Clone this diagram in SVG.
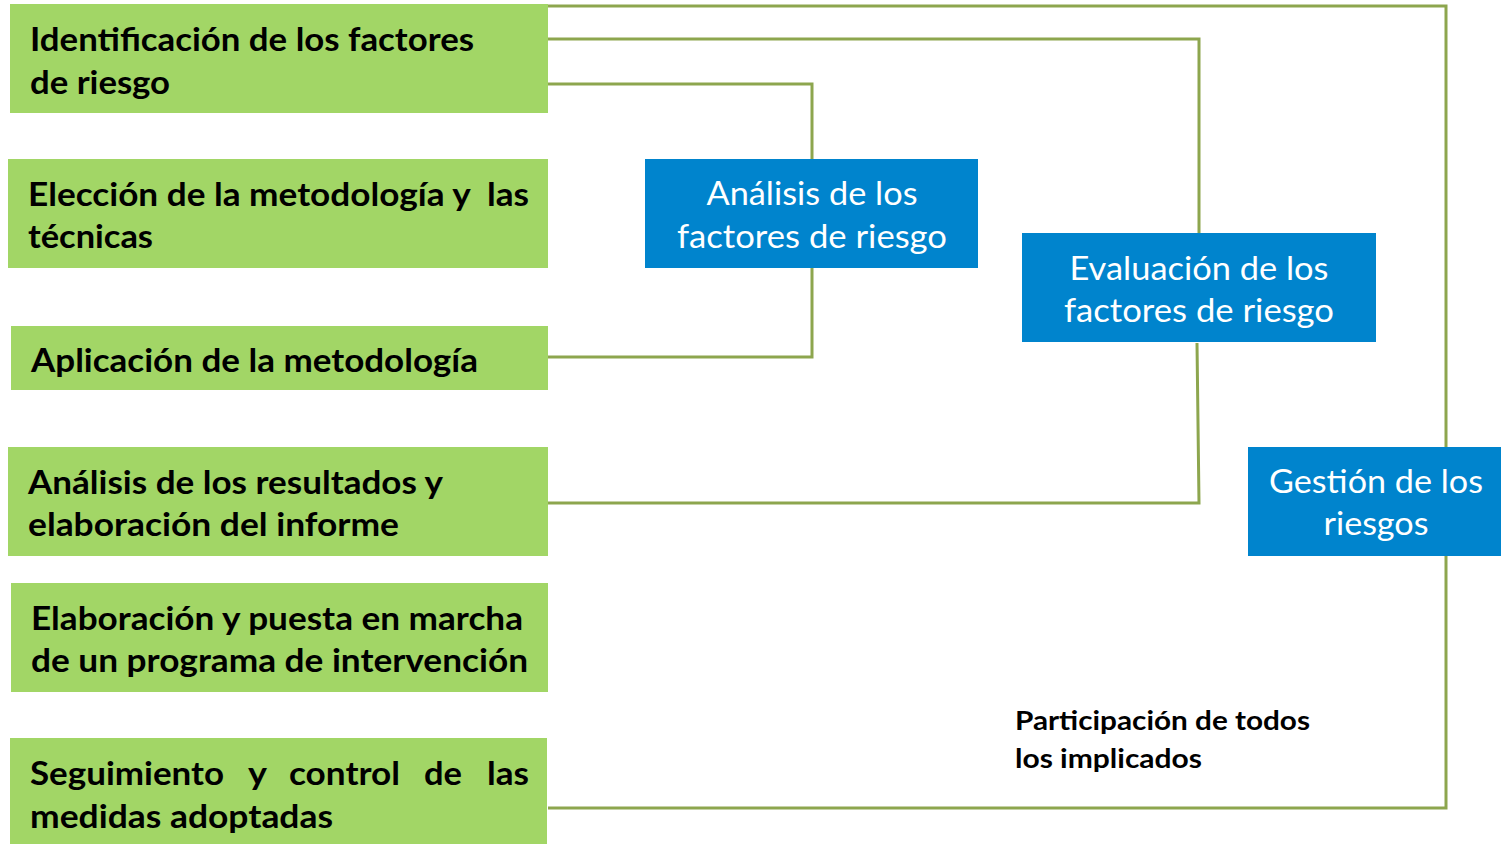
<svg xmlns="http://www.w3.org/2000/svg" width="1501" height="844" viewBox="0 0 1501 844">
<style>
.g{fill:#A2D666}
.b{fill:#0084CD}
.gt{font-family:Lato,"Open Sans","Liberation Sans",sans-serif;font-weight:bold;font-size:32px;fill:#000}
.bt{font-family:Lato,"Open Sans","Liberation Sans",sans-serif;font-size:33px;fill:#fff;text-anchor:middle}
.pt{font-family:Lato,"Open Sans","Liberation Sans",sans-serif;font-weight:bold;font-size:27px;fill:#000}
.c{fill:none;stroke:#8DA64E;stroke-width:3}
</style>
<rect width="1501" height="844" fill="#fff"/>
<g id="connectors">
<polyline class="c" points="548,6 1446,6 1446,447"/>
<polyline class="c" points="548,39 1199,39 1199,233"/>
<polyline class="c" points="548,84 812,84 812,159"/>
<polyline class="c" points="812,268 812,357 548,357"/>
<polyline class="c" points="1197,343 1199,503 548,503"/>
<polyline class="c" points="1446,556 1446,808 548,808"/>
</g>
<g id="n1"><rect class="g" x="10" y="4" width="538" height="109"/>
<text class="gt" x="30" y="51" textLength="444" lengthAdjust="spacingAndGlyphs">Identificación de los factores</text>
<text class="gt" x="30" y="94" textLength="140" lengthAdjust="spacingAndGlyphs">de riesgo</text></g>
<g id="n2"><rect class="g" x="8" y="159" width="540" height="109"/>
<text class="gt" x="28" y="206" textLength="501" lengthAdjust="spacingAndGlyphs" xml:space="preserve">Elección de la metodología y  las</text>
<text class="gt" x="28" y="248" textLength="125" lengthAdjust="spacingAndGlyphs">técnicas</text></g>
<g id="n3"><rect class="g" x="11" y="326" width="537" height="64"/>
<text class="gt" x="31" y="372" textLength="447" lengthAdjust="spacingAndGlyphs">Aplicación de la metodología</text></g>
<g id="n4"><rect class="g" x="8" y="447" width="540" height="109"/>
<text class="gt" x="28" y="494" textLength="415" lengthAdjust="spacingAndGlyphs">Análisis de los resultados y</text>
<text class="gt" x="28" y="536" textLength="371" lengthAdjust="spacingAndGlyphs">elaboración del informe</text></g>
<g id="n5"><rect class="g" x="11" y="583" width="537" height="109"/>
<text class="gt" x="31" y="630" textLength="492" lengthAdjust="spacingAndGlyphs">Elaboración y puesta en marcha</text>
<text class="gt" x="31" y="672" textLength="497" lengthAdjust="spacingAndGlyphs">de un programa de intervención</text></g>
<g id="n6"><rect class="g" x="10" y="738" width="537" height="106"/>
<text class="gt" x="30" y="785" textLength="194" lengthAdjust="spacingAndGlyphs">Seguimiento</text>
<text class="gt" x="248" y="785" textLength="19" lengthAdjust="spacingAndGlyphs">y</text>
<text class="gt" x="289" y="785" textLength="111" lengthAdjust="spacingAndGlyphs">control</text>
<text class="gt" x="424" y="785" textLength="38" lengthAdjust="spacingAndGlyphs">de</text>
<text class="gt" x="487" y="785" textLength="42" lengthAdjust="spacingAndGlyphs">las</text>
<text class="gt" x="30" y="828" textLength="303" lengthAdjust="spacingAndGlyphs">medidas adoptadas</text></g>
<g id="analisis"><rect class="b" x="645" y="159" width="333" height="109"/>
<text class="bt" x="812" y="205" textLength="211" lengthAdjust="spacingAndGlyphs">Análisis de los</text>
<text class="bt" x="812" y="248" textLength="270" lengthAdjust="spacingAndGlyphs">factores de riesgo</text></g>
<g id="evaluacion"><rect class="b" x="1022" y="233" width="354" height="109"/>
<text class="bt" x="1199" y="280" textLength="259" lengthAdjust="spacingAndGlyphs">Evaluación de los</text>
<text class="bt" x="1199" y="322" textLength="270" lengthAdjust="spacingAndGlyphs">factores de riesgo</text></g>
<g id="gestion"><rect class="b" x="1248" y="447" width="253" height="109"/>
<text class="bt" x="1376" y="493" textLength="214" lengthAdjust="spacingAndGlyphs">Gestión de los</text>
<text class="bt" x="1376" y="535" textLength="105" lengthAdjust="spacingAndGlyphs">riesgos</text></g>
<g id="participacion">
<text class="pt" x="1015" y="730" textLength="295" lengthAdjust="spacingAndGlyphs">Participación de todos</text>
<text class="pt" x="1015" y="768" textLength="187" lengthAdjust="spacingAndGlyphs">los implicados</text></g>
</svg>
